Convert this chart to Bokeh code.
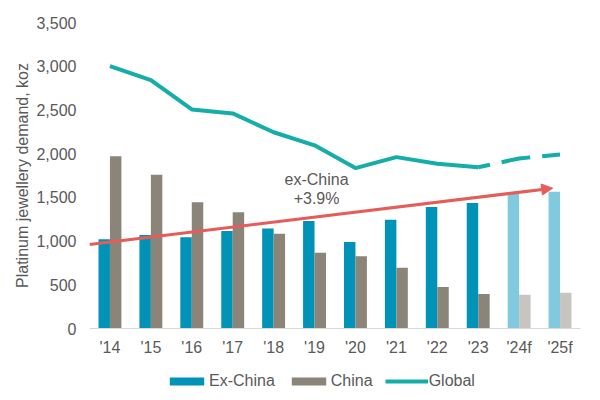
from bokeh.plotting import figure
from bokeh.layouts import column
from bokeh.models import (ColumnDataSource, Legend, LegendItem, Label, Arrow,
                          NormalHead, NumeralTickFormatter, FixedTicker, Range1d)
from bokeh.embed import file_html
from bokeh.resources import INLINE

# ---- data (koz) ----
years = ["'14", "'15", "'16", "'17", "'18", "'19", "'20", "'21", "'22", "'23", "'24f", "'25f"]
ex_china = [1020, 1070, 1045, 1115, 1145, 1230, 990, 1245, 1390, 1435, 1560, 1565]
china = [1970, 1760, 1445, 1330, 1085, 865, 825, 695, 475, 395, 385, 410]
global_demand = [3000, 2840, 2505, 2460, 2245, 2095, 1835, 1960, 1885, 1845, 1945, 1990]
forecast = [False] * 10 + [True] * 2
y_ticks = [0, 500, 1000, 1500, 2000, 2500, 3000, 3500]
series_names = ["Ex-China", "China", "Global"]
trend_label = ["ex-China", "+3.9%"]
trend_start = 960
trend_end = 1605

FONT = "Liberation Sans"
TXT = "#595959"
RED = "#e65c59"
TEAL = "#14ada8"
BLUE = "#0093b7"
GREY = "#8a8479"

xs = list(range(len(years)))
bw = 0.28
src = ColumnDataSource(dict(
    x_ex=[i - bw / 2 for i in xs],
    x_cn=[i + bw / 2 for i in xs],
    x=xs,
    ex=ex_china,
    cn=china,
    gl=global_demand,
    ex_col=["#80c9df" if f else BLUE for f in forecast],
    cn_col=["#c8c5c1" if f else GREY for f in forecast],
))

n_act = forecast.index(True)
solid = ColumnDataSource(dict(x=xs[:n_act], y=global_demand[:n_act]))
dashed = ColumnDataSource(dict(x=xs[n_act - 1:], y=global_demand[n_act - 1:]))

p = figure(width=592, height=364, x_range=Range1d(-0.5, len(years) - 0.5),
           y_range=Range1d(0, 3500), output_backend="svg", toolbar_location=None,
           min_border_left=89, min_border_right=12, min_border_top=22,
           min_border_bottom=36)
p.outline_line_color = None
p.xgrid.visible = False
p.ygrid.visible = False

p.vbar(x="x_ex", top="ex", width=bw, source=src, fill_color="ex_col", line_color=None)
p.vbar(x="x_cn", top="cn", width=bw, source=src, fill_color="cn_col", line_color=None)
p.line("x", "y", source=solid, line_color=TEAL, line_width=4, line_join="round")
p.line("x", "y", source=dashed, line_color=TEAL, line_width=4, line_join="round",
       line_dash="29 12", line_dash_offset=17)

p.add_layout(Arrow(end=NormalHead(size=11, fill_color=RED, line_color=RED),
                   x_start=-0.5, y_start=trend_start, x_end=10.82, y_end=trend_end,
                   line_color=RED, line_width=3))
for txt, yy in zip(trend_label, [1705, 1491]):
    p.add_layout(Label(x=5.05, y=yy, text=txt, text_align="center", text_baseline="middle",
                       text_font_size="16px", text_color=TXT, text_font=FONT))

# axes
p.yaxis.ticker = FixedTicker(ticks=y_ticks)
p.yaxis.formatter = NumeralTickFormatter(format="0,0")
p.yaxis.axis_line_color = None
p.yaxis.major_tick_line_color = None
p.yaxis.minor_tick_line_color = None
p.yaxis.major_label_standoff = 7
p.yaxis.axis_label = "Platinum jewellery demand, koz"
p.yaxis.axis_label_standoff = 2
p.yaxis.axis_label_text_font_style = "normal"
p.yaxis.axis_label_text_font_size = "16px"
p.yaxis.axis_label_text_color = TXT
p.yaxis.axis_label_text_font = FONT

p.xaxis.ticker = FixedTicker(ticks=xs)
p.xaxis.major_label_overrides = {i: y for i, y in zip(xs, years)}
p.xaxis.axis_line_color = "#d9d9d9"
p.xaxis.major_tick_line_color = None
p.xaxis.minor_tick_line_color = None
p.xaxis.major_label_standoff = 4

for ax in (p.xaxis, p.yaxis):
    ax.major_label_text_font_size = "16px"
    ax.major_label_text_color = TXT
    ax.major_label_text_font = FONT

# ---- legend strip (same series, drawn entirely outside its visible range) ----
lg = figure(width=592, height=30, x_range=Range1d(100, 101), y_range=Range1d(5000, 5001),
            output_backend="svg", toolbar_location=None, min_border=0)
lg.outline_line_color = None
lg.axis.visible = False
lg.grid.visible = False
k_ex = lg.vbar(x="x_ex", top="ex", width=bw, source=src, fill_color=BLUE, line_color=None)
k_cn = lg.vbar(x="x_cn", top="cn", width=bw, source=src, fill_color=GREY, line_color=None)
k_gl = lg.line("x", "gl", source=src, line_color=TEAL, line_width=4)
legend = Legend(items=[LegendItem(label=n, renderers=[r]) for n, r in
                       zip(series_names, [k_ex, k_cn, k_gl])],
                orientation="horizontal", location=(76, 4), glyph_width=43, glyph_height=10,
                label_standoff=1, spacing=12, padding=0, margin=0,
                border_line_color=None, background_fill_alpha=0,
                label_text_font_size="16px", label_text_color=TXT, label_text_font=FONT)
lg.add_layout(legend, "center")

open("out.html", "w").write(file_html(column(p, lg, spacing=0), INLINE))
